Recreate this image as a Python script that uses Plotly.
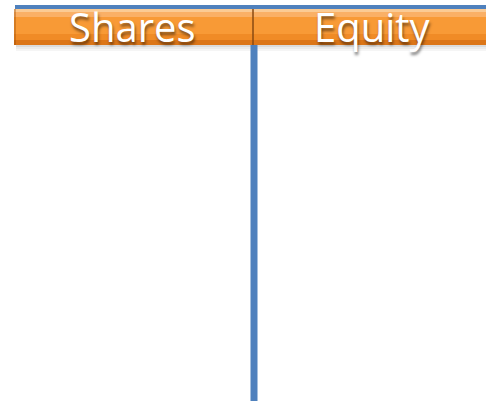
import plotly.graph_objects as go

# Data
categories = ["Shares", "Equity"]
header_top = [9, 9]
header_height = [36, 36]

W, H = 486, 401
col_px = 240.0
left_px = 14.0
xmin = -0.5 - left_px / col_px
xmax = xmin + W / col_px

fig = go.Figure()
idx = list(range(len(categories)))

# header bars (gradient emulated with stacked strips)
strips = [
    (0.00, 0.08, "#FBCB94"),
    (0.08, 0.22, "#FAB066"),
    (0.22, 0.70, "#F89A36"),
    (0.70, 0.86, "#F08B26"),
    (0.86, 1.00, "#DC7618"),
]
for a, b, c in strips:
    fig.add_trace(go.Bar(
        x=idx,
        y=[h * (b - a) for h in header_height],
        base=[t + h * a for t, h in zip(header_top, header_height)],
        width=1.0,
        marker=dict(color=c, line=dict(width=0)),
        hoverinfo="skip",
        showlegend=False,
    ))

shapes = []
# shadow under header
for k, alpha in enumerate([0.14, 0.08, 0.04]):
    shapes.append(dict(type="rect", xref="x", yref="y",
                       x0=-0.5 + 2 / col_px, x1=xmax, y0=45 + k * 2, y1=47 + k * 2,
                       fillcolor=f"rgba(0,0,0,{alpha})", line=dict(width=0), layer="below"))
# left bevel of header
shapes.append(dict(type="rect", xref="x", yref="y", x0=-0.5, x1=-0.5 + 2 / col_px,
                   y0=9, y1=45, fillcolor="rgba(150,70,0,0.35)", line=dict(width=0)))
# top blue line
shapes.append(dict(type="rect", xref="x", yref="y", x0=-0.5 + 1 / col_px, x1=xmax,
                   y0=5, y1=9, fillcolor="#4F81BD", line=dict(width=0)))
# divider in header
shapes.append(dict(type="line", xref="x", yref="y", x0=0.5 - 1 / col_px, x1=0.5 - 1 / col_px,
                   y0=9, y1=45, line=dict(color="#8A4A12", width=1.5)))
# vertical T line
shapes.append(dict(type="line", xref="x", yref="y", x0=0.5, x1=0.5,
                   y0=45, y1=H + 5, line=dict(color="#4F81BD", width=7)))

annotations = []
for i, c in enumerate(categories):
    annotations.append(dict(x=i - 0.005, y=26, xref="x", yref="y", text=c, showarrow=False,
                            yanchor="middle",
                            font=dict(family="Open Sans", size=40, color="white",
                                      shadow="1px 3px 3px rgba(0,0,0,0.5)")))

fig.update_layout(
    width=W, height=H,
    margin=dict(l=0, r=0, t=0, b=0),
    paper_bgcolor="white", plot_bgcolor="white",
    barmode="overlay", bargap=0,
    xaxis=dict(range=[xmin, xmax], visible=False, fixedrange=True),
    yaxis=dict(range=[H, 0], visible=False, fixedrange=True),
    shapes=shapes, annotations=annotations,
)

fig.write_html(
    "out.html",
    config={"displayModeBar": False},
    post_script="document.body.style.margin='0';document.body.style.overflow='hidden';"
                "document.documentElement.style.overflow='hidden';",
)
